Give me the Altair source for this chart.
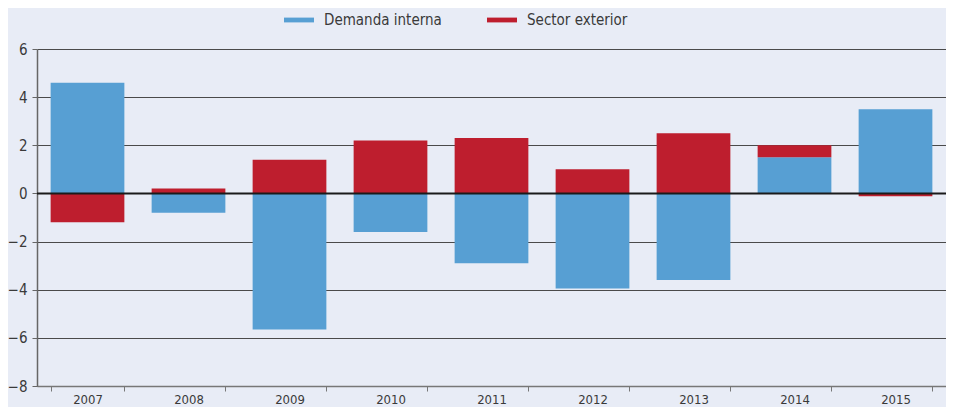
import altair as alt
import pandas as pd

years = ["2007", "2008", "2009", "2010", "2011", "2012", "2013", "2014", "2015"]
demanda = [4.6, -0.8, -5.65, -1.6, -2.9, -3.95, -3.6, 1.5, 3.5]
exterior = [-1.2, 0.2, 1.4, 2.2, 2.3, 1.0, 2.5, 0.5, -0.12]
series = ["Demanda interna", "Sector exterior"]
colors = ["#579FD3", "#BE1E2E"]
y_ticks = [-8, -6, -4, -2, 0, 2, 4, 6]

rows = []
for i, y in enumerate(years):
    rows.append({"year": y, "serie": series[0], "value": demanda[i], "ord": 0})
    rows.append({"year": y, "serie": series[1], "value": exterior[i], "ord": 1})
df = pd.DataFrame(rows)

FONT = "DejaVu Sans Condensed, Liberation Sans, sans-serif"
TXT = "#3a3a3a"

bars = alt.Chart(df).mark_bar().encode(
    x=alt.X("year:N", sort=years, title=None,
            scale=alt.Scale(paddingInner=0.27, paddingOuter=0.135),
            axis=alt.Axis(labelAngle=0, tickBand="extent", tickSize=5, tickColor="#777",
                          domainColor="#777", domainWidth=1.5, labelPadding=2,
                          labelFontSize=13, labelFont=FONT, labelColor=TXT, grid=False)),
    y=alt.Y("value:Q", stack="zero", title=None,
            scale=alt.Scale(domain=[-8, 6], nice=False),
            axis=alt.Axis(values=y_ticks, tickSize=5, tickColor="#666", domainColor="#666",
                          domainWidth=1.5, labelPadding=5, labelFontSize=15, labelFont=FONT,
                          labelColor=TXT, grid=True, gridColor="#4a4a4a", gridWidth=1,
                          format="d")),
    color=alt.Color("serie:N", scale=alt.Scale(domain=series, range=colors),
                    legend=alt.Legend(title=None, orient="none", legendX=247, legendY=-44,
                                      direction="horizontal",
                                      symbolType="M-1,-0.16L1,-0.16L1,0.16L-1,0.16Z",
                                      symbolSize=900, symbolStrokeWidth=0, labelOffset=10,
                                      columnPadding=45, labelFontSize=15, labelFont=FONT,
                                      labelColor=TXT, symbolOpacity=1)),
    order=alt.Order("ord:Q"),
)

zero = alt.Chart(pd.DataFrame({"v": [0]})).mark_rule(color="#1a1a1a", strokeWidth=2).encode(
    y="v:Q"
)

chart = alt.layer(bars, zero).properties(
    width=909, height=337,
    background="#E8ECF6",
    autosize=alt.AutoSizeParams(type="none"),
    padding={"left": 29, "top": 41, "right": 0, "bottom": 21},
).configure_view(stroke=None)

chart.save("out.html", embed_options={"renderer": "svg", "actions": False})
